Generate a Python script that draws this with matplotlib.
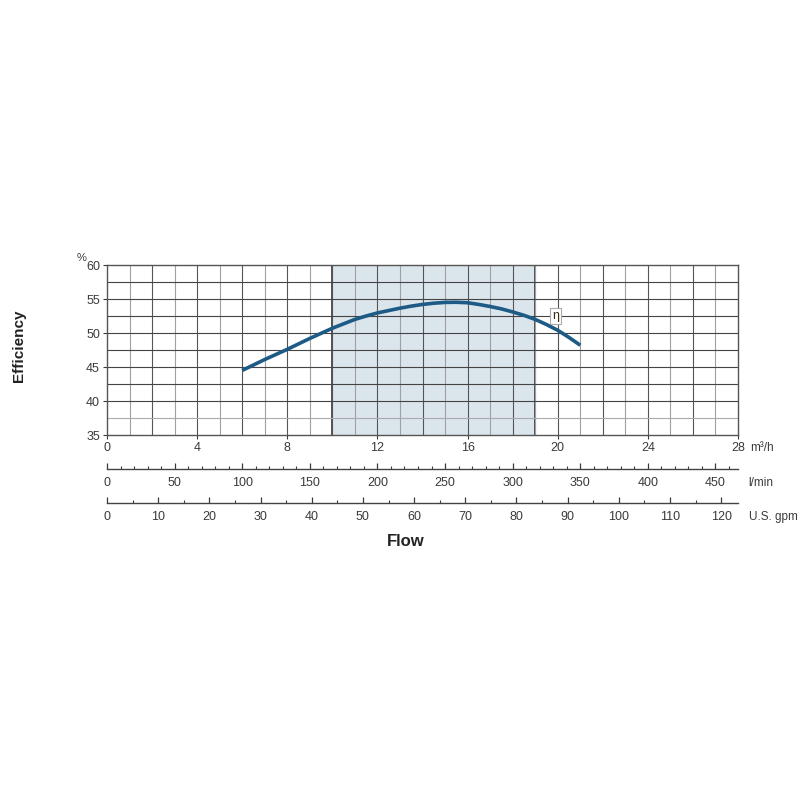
import numpy as np
import matplotlib
matplotlib.use('Agg')
import matplotlib.pyplot as plt

plt.rcParams['font.family'] = ['Liberation Sans', 'DejaVu Sans']

# efficiency curve
flow_m3h = [6, 6.5, 7, 7.5, 8, 8.5, 9, 9.5, 10, 10.5, 11, 11.5, 12, 12.5, 13, 13.5,
            14, 14.5, 15, 15.5, 16, 16.5, 17, 17.5, 18, 18.5, 19, 19.5, 20, 20.5, 21]
eff_pct = [44.5, 45.3, 46.1, 46.85, 47.6, 48.4, 49.2, 49.95, 50.7, 51.35, 52.0, 52.5,
           52.95, 53.3, 53.65, 53.95, 54.2, 54.38, 54.5, 54.52, 54.45, 54.2, 53.9, 53.55,
           53.1, 52.6, 52.0, 51.25, 50.4, 49.35, 48.2]

# recommended duty range (shaded)
band = [10, 19]

q_ticks = [0, 4, 8, 12, 16, 20, 24, 28]
eff_ticks = [35, 40, 45, 50, 55, 60]
lmin_ticks = [0, 50, 100, 150, 200, 250, 300, 350, 400, 450]
gpm_ticks = [0, 10, 20, 30, 40, 50, 60, 70, 80, 90, 100, 110, 120]

q_max = 28
lmin_max = q_max * 1000 / 60
gpm_max = q_max * 4.402868

curve_col = '#1d5a85'
txt_col = '#3a3a3a'

fig = plt.figure(figsize=(8, 8), dpi=100)
ax = fig.add_axes([0.13375, 0.45625, 0.78875, 0.2125])

ax.axvspan(band[0], band[1], color='#dbe5ec', zorder=0)
for v in band:
    ax.axvline(v, color='#444444', lw=1.3, zorder=1)

# grid
for x in range(1, q_max):
    c = '#555555' if x % 2 == 0 else '#a0a0a0'
    ax.axvline(x, color=c, lw=0.8, zorder=1)
for y in np.arange(37.5, 60, 2.5):
    c = '#aaaaaa' if y == 37.5 else '#444444'
    ax.axhline(y, color=c, lw=0.8, zorder=1)

ax.plot(flow_m3h, eff_pct, color=curve_col, lw=2.6, solid_capstyle='butt', zorder=3)
ax.text(19.9, 52.5, 'η', fontsize=9, ha='center', va='center', color='#3a2a10',
        bbox=dict(boxstyle='square,pad=0.15', fc='white', ec='#aaaaaa', lw=0.8), zorder=4)

ax.set_xlim(0, q_max)
ax.set_ylim(35, 60)
ax.set_xticks(q_ticks)
ax.set_yticks(eff_ticks)
ax.tick_params(axis='both', labelsize=9, colors=txt_col, length=3, width=0.8, pad=2)
for s in ax.spines.values():
    s.set_color('#555555')
    s.set_linewidth(1.0)

ax.text(-0.04, 1.025, '%', transform=ax.transAxes, fontsize=8, color=txt_col, ha='center')
ax.text(1.02, -0.075, 'm³/h', transform=ax.transAxes, fontsize=8.5, color=txt_col, va='center')
fig.text(0.024, 0.568, 'Efficiency', rotation=90, fontsize=11, fontweight='bold',
         ha='center', va='center', color='#222222')
fig.text(0.507, 0.323, 'Flow', fontsize=12, fontweight='bold', ha='center', va='center',
         color='#222222')


def unit_axis(bottom, vmax, major, minor_step, label):
    a = fig.add_axes([0.13375, bottom, 0.78875, 0.01])
    a.set_xlim(0, vmax)
    a.set_ylim(0, 1)
    for k in ['top', 'left', 'right']:
        a.spines[k].set_visible(False)
    a.spines['bottom'].set_color('#444444')
    a.spines['bottom'].set_linewidth(1.0)
    a.set_yticks([])
    a.set_xticks(major)
    a.set_xticks(np.arange(0, vmax, minor_step), minor=True)
    a.tick_params(axis='x', which='major', direction='in', length=4, width=0.9,
                  labelsize=9, colors=txt_col, pad=6)
    a.tick_params(axis='x', which='minor', direction='in', length=2.5, width=0.8, colors=txt_col)
    a.patch.set_alpha(0)
    a.text(1.017, -1.7, label, transform=a.transAxes, fontsize=8.5, color=txt_col, va='center')
    return a


unit_axis(0.41375, lmin_max, lmin_ticks, 10, 'l/min')
unit_axis(0.37125, gpm_max, gpm_ticks, 5, 'U.S. gpm')

fig.savefig('out.png', dpi=100)
